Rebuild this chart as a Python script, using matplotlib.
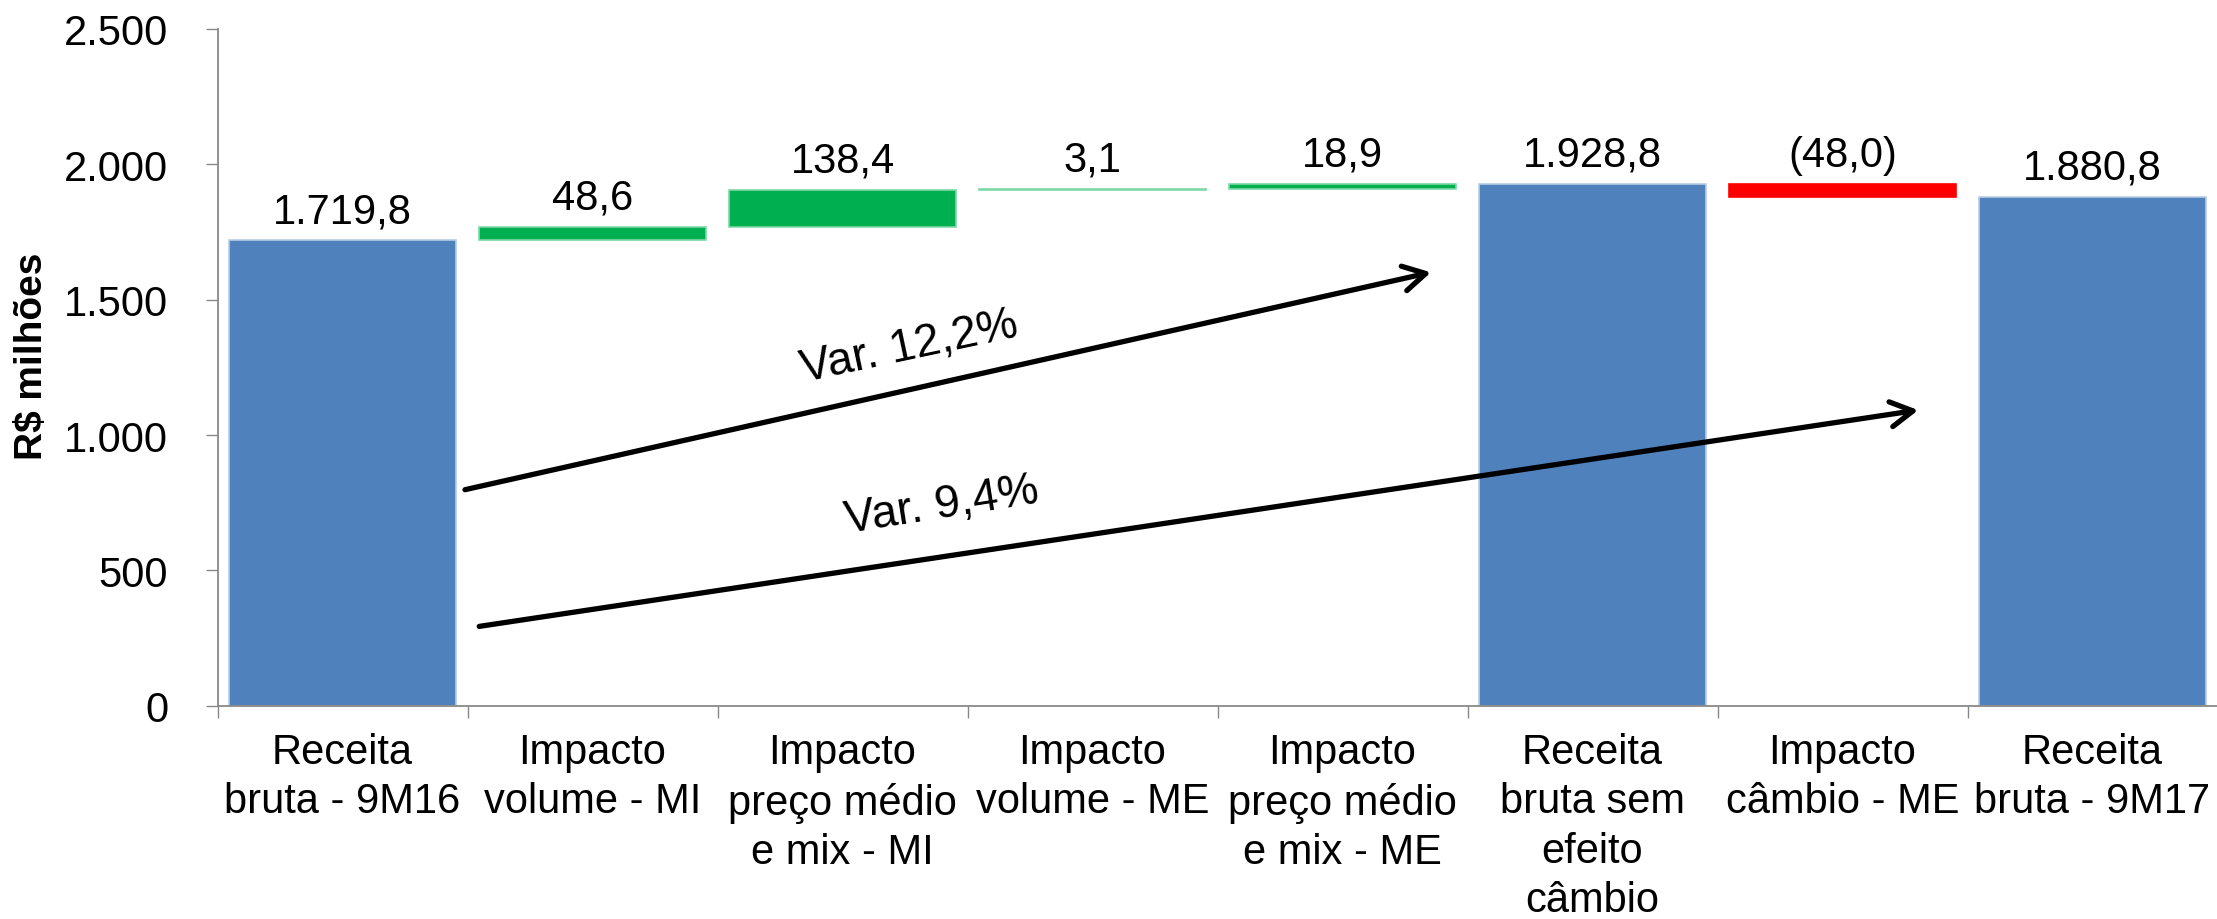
import matplotlib
matplotlib.use("Agg")
import matplotlib.pyplot as plt
import numpy as np

# ---- data ----
categories = [
    "Receita\nbruta - 9M16",
    "Impacto\nvolume - MI",
    "Impacto\npreço médio\ne mix - MI",
    "Impacto\nvolume - ME",
    "Impacto\npreço médio\ne mix - ME",
    "Receita\nbruta sem\nefeito\ncâmbio",
    "Impacto\ncâmbio - ME",
    "Receita\nbruta - 9M17",
]
values = [1719.8, 48.6, 138.4, 3.1, 18.9, 1928.8, -48.0, 1880.8]
is_total = [True, False, False, False, False, True, False, True]
yticks = [0, 500, 1000, 1500, 2000, 2500]
ylabel = "R$ milhões"
var_labels = ["Var. 12,2%", "Var. 9,4%"]
# arrows: (x0, y0, x1, y1) in data units
arrow1 = (0.49, 798, 4.354, 1601)
arrow2 = (0.547, 293, 6.303, 1092)

BLUE = "#4F81BD"
GREEN = "#00B050"
RED = "#FF0000"
GRAY = "#898989"

plt.rcParams['font.family'] = ['Liberation Sans', 'DejaVu Sans']


def br_fmt(v, dec=1):
    s = f"{abs(v):,.{dec}f}"
    s = s.replace(",", "X").replace(".", ",").replace("X", ".")
    return f"({s})" if v < 0 else s


fig = plt.figure(figsize=(22.17, 9.2), dpi=100)
ax = fig.add_axes([217.5 / 2217, (920 - 706.7) / 920, 2000 / 2217, 676.7 / 920])

x = np.arange(len(categories))
bottoms, heights, colors, edges, tops = [], [], [], [], []
running = 0.0
for v, tot in zip(values, is_total):
    if tot:
        bottoms.append(0)
        heights.append(v)
        colors.append(BLUE)
        edges.append("#B9CDE5")
        running = v
        tops.append(v)
    else:
        if v >= 0:
            bottoms.append(running)
            heights.append(v)
            colors.append(GREEN)
            edges.append("#7FD8A7")
            tops.append(running + v)
        else:
            bottoms.append(running + v)
            heights.append(-v)
            colors.append(RED)
            edges.append(RED)
            tops.append(running)
        running += v

ax.bar(x, heights, bottom=bottoms, width=0.908, color=colors,
       edgecolor=edges, linewidth=1.2, zorder=2)

for xi, top, v in zip(x, tops, values):
    ax.annotate(br_fmt(v), (xi, top), xytext=(0, 13), textcoords="offset points",
                ha="center", va="baseline", fontsize=30, color="black")

ax.set_xlim(-0.5, len(categories) - 0.5)
ax.set_ylim(0, 2500)
ax.set_yticks(yticks)
ax.set_yticklabels([br_fmt(t, 0) for t in yticks])
ax.set_xticks(np.arange(len(categories) + 1) - 0.5)
ax.set_xticklabels([])
ax.set_xticks(x, minor=True)
ax.set_xticklabels(categories, minor=True, fontsize=30, linespacing=1.3)

for s in ["top", "right"]:
    ax.spines[s].set_visible(False)
for s in ["left", "bottom"]:
    ax.spines[s].set_color(GRAY)
    ax.spines[s].set_linewidth(1.3)

ax.tick_params(axis="y", which="major", direction="out", length=8.6, width=1.0,
               color=GRAY, labelsize=30, pad=27)
ax.tick_params(axis="x", which="major", direction="out", length=8.6, width=1.0,
               color=GRAY)
ax.tick_params(axis="x", which="minor", length=0, pad=19)

fig.text(32 / 2217, 1 - 356 / 920, ylabel, rotation=90, ha="center", va="center",
         fontsize=28, fontweight="bold")

for (x0, y0, x1, y1) in (arrow1, arrow2):
    ax.annotate("", xy=(x1, y1), xytext=(x0, y0),
                arrowprops=dict(arrowstyle="->,head_length=0.8,head_width=0.45",
                                lw=3.8, color="black", shrinkA=0, shrinkB=0,
                                mutation_scale=20), zorder=3)

ax.text(2.266, 1329, var_labels[0], rotation=12, rotation_mode="anchor",
        ha="center", va="center", fontsize=33, zorder=4)
ax.text(2.398, 741.5, var_labels[1], rotation=9, rotation_mode="anchor",
        ha="center", va="center", fontsize=33, zorder=4)

fig.savefig("out.png", dpi=100)
